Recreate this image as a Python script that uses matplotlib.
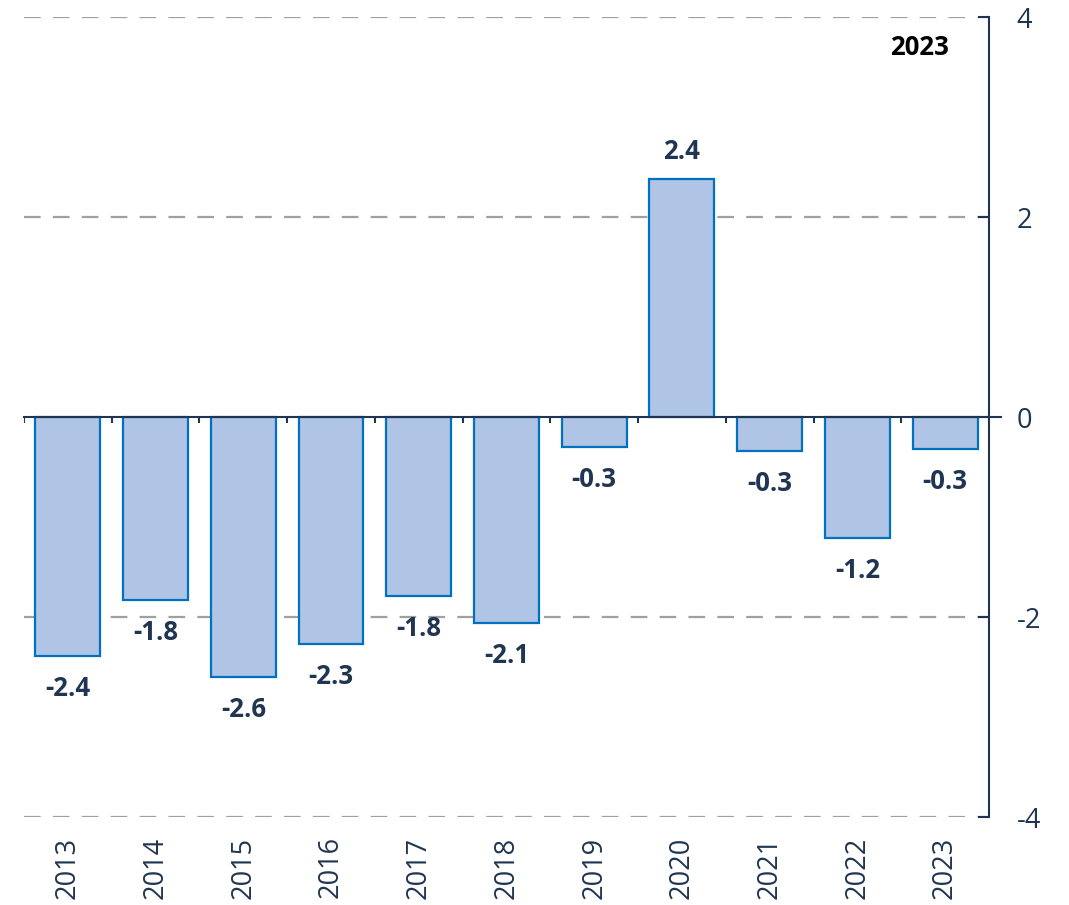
import numpy as np
import matplotlib
matplotlib.use("Agg")
import matplotlib.pyplot as plt

years = ["2013", "2014", "2015", "2016", "2017", "2018", "2019", "2020", "2021", "2022", "2023"]
values = [-2.39, -1.83, -2.60, -2.27, -1.79, -2.06, -0.30, 2.38, -0.34, -1.21, -0.32]
labels = ["-2.4", "-1.8", "-2.6", "-2.3", "-1.8", "-2.1", "-0.3", "2.4", "-0.3", "-1.2", "-0.3"]
yticks = [-4, -2, 0, 2, 4]

navy = "#1f3552"
plt.rcParams["font.family"] = ["Open Sans", "DejaVu Sans"]

fig = plt.figure(figsize=(10.69, 9.05), dpi=100)
ax = fig.add_axes([0.02245, 0.0972, 0.9027, 0.884])

x = np.arange(len(years))
ax.bar(x, values, width=0.74, color="#b0c4e5", edgecolor="#0070c0", linewidth=1.6, zorder=3)

# gridlines (dashed)
for t in yticks:
    if t != 0:
        ax.axhline(t, color="#a0a0a0", linestyle=(0, (7.5, 5.5)), linewidth=1.6, zorder=1)
ax.axhline(0, xmin=0, xmax=1.012, color=navy, linewidth=1.5, zorder=4, clip_on=False)

# small ticks on the zero line between categories
bounds = np.arange(len(years) + 1) - 0.5
ax.vlines(bounds, -0.06, 0, color=navy, linewidth=1.5, zorder=4)

for xi, v, lab in zip(x, values, labels):
    if v >= 0:
        ax.annotate(lab, (xi, v), xytext=(0, 10), textcoords="offset points",
                    ha="center", va="bottom", fontsize=18.5, fontweight="bold", color=navy)
    else:
        ax.annotate(lab, (xi, v), xytext=(0, -14), textcoords="offset points",
                    ha="center", va="top", fontsize=18.5, fontweight="bold", color=navy)

ax.text(0.928, 0.962, "2023", transform=ax.transAxes, ha="center", va="center",
        fontsize=18.5, fontweight="bold", color="black")

ax.set_xlim(-0.5, len(years) - 0.5)
ax.set_ylim(-4, 4)
ax.set_xticks(x)
ax.set_xticklabels(years, rotation=90, fontsize=19.5, color=navy)
ax.tick_params(axis="x", length=0, pad=14)

ax.yaxis.tick_right()
ax.set_yticks(yticks)
ax.set_yticklabels([str(t) for t in yticks], fontsize=19.5, color=navy)
ax.tick_params(axis="y", direction="in", length=8, width=1.5, color=navy, pad=20)
for lab in ax.get_yticklabels():
    lab.set_horizontalalignment("left")

for s in ["top", "left", "bottom"]:
    ax.spines[s].set_visible(False)
ax.spines["right"].set_color(navy)
ax.spines["right"].set_linewidth(1.5)

fig.savefig("out.png", dpi=100)
